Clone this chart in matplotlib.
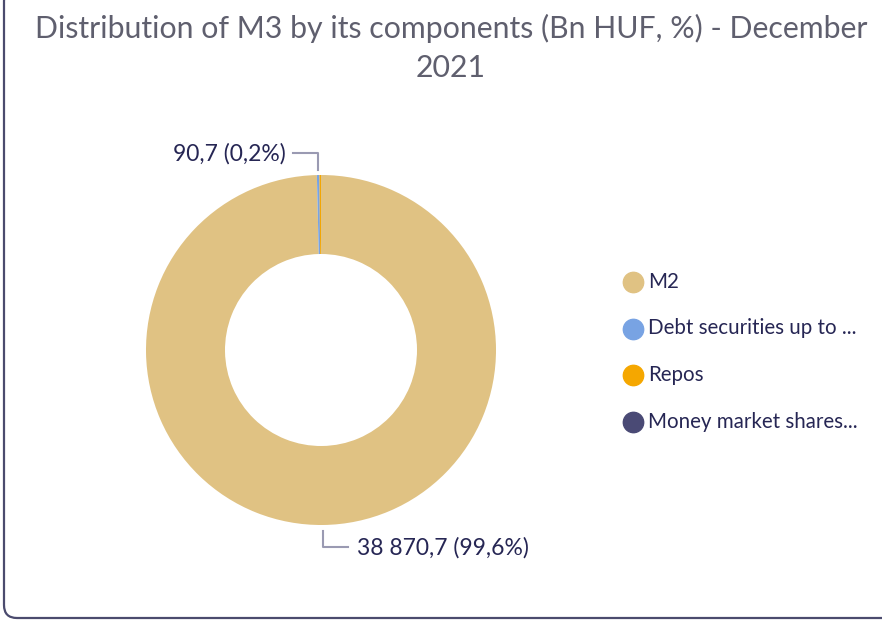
import matplotlib.pyplot as plt
from matplotlib.patches import FancyBboxPatch

# M3 components, Bn HUF, December 2021
components = ["M2", "Debt securities up to ...", "Repos", "Money market shares..."]
values = [38870.7, 90.7, 55.0, 0.5]
colors = ["#e0c283", "#78a3e3", "#f5a700", "#4a4a75"]
shown_labels = {0: "38 870,7 (99,6%)", 1: "90,7 (0,2%)"}

W, H = 882, 621
fig = plt.figure(figsize=(W / 100, H / 100), dpi=100)
ax = fig.add_axes([0, 0, 1, 1])

# card border
card = FancyBboxPatch((4, 3), 900, 630, boxstyle="round,pad=0,rounding_size=13",
                      fc="white", ec="#4b4b6e", lw=1.6, zorder=0)
ax.add_patch(card)

font = "Lato"
ax.text(451, H - 28, "Distribution of M3 by its components (Bn HUF, %) - December",
        ha="center", va="center", fontsize=21.8, color="#5f5f6e", family=font)
ax.text(451, H - 68, "2021", ha="center", va="center", fontsize=21.8,
        color="#5f5f6e", family=font)

cx, cy, r = 321, H - 350, 175
wedges, _ = ax.pie(values, colors=colors, startangle=90, counterclock=False,
                   center=(cx, cy), radius=r, frame=True,
                   wedgeprops=dict(width=79, linewidth=0))
ax.set_xlim(0, W)
ax.set_ylim(0, H)
ax.set_aspect("equal")
ax.axis("off")

# leader lines and value labels
line_c = "#9a9ab2"
lab_c = "#262654"
ax.plot([293, 318, 318], [H - 153, H - 153, H - 170], color=line_c, lw=1.5)
ax.text(286, H - 154, shown_labels[1], ha="right", va="center", fontsize=16.5,
        color=lab_c, family=font)
ax.plot([323, 323, 348], [H - 531, H - 547, H - 547], color=line_c, lw=1.5)
ax.text(357, H - 548, shown_labels[0], ha="left", va="center", fontsize=16.5,
        color=lab_c, family=font)

# legend
for i, (name, col) in enumerate(zip(components, colors)):
    y = H - (282 + i * 46.5)
    ax.scatter([633], [y], s=215, color=col, zorder=3)
    ax.text(648, y, name, ha="left", va="center", fontsize=14.8,
            color=lab_c, family=font)

fig.savefig("out.png", dpi=100)
